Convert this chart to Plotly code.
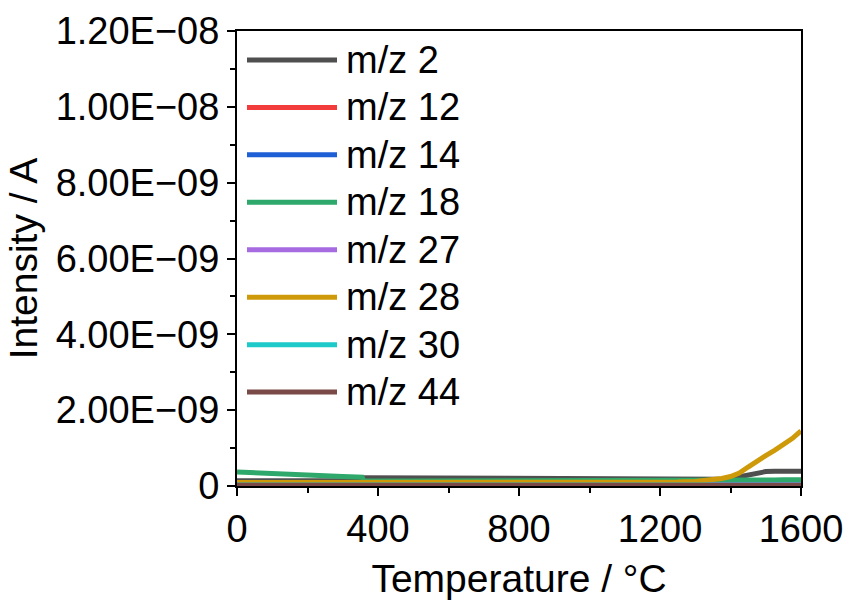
import plotly.graph_objects as go

# Temperature grid (°C) shared by all mass traces
temperature = [0, 100, 200, 300, 355, 360, 500, 700, 900, 1100, 1200, 1250, 1300,
               1325, 1350, 1375, 1400, 1425, 1450, 1475, 1500, 1525, 1550, 1575, 1600]

# Ion currents (A) for each m/z channel
mz2 = [1.4e-10, 1.4e-10, 1.4e-10, 1.4e-10, 1.4e-10, 2.2e-10, 2.1e-10, 2.1e-10, 2.0e-10, 1.9e-10,
       1.8e-10, 1.75e-10, 1.7e-10, 1.7e-10, 1.7e-10, 1.8e-10, 2.0e-10, 2.4e-10, 2.9e-10, 3.5e-10,
       3.8e-10, 3.9e-10, 3.9e-10, 3.9e-10, 3.9e-10]
mz12 = [2.0e-11] * 25
mz14 = [2.5e-11] * 25
mz18 = [3.7e-10, 3.2e-10, 2.8e-10, 2.5e-10, 2.3e-10, 1.3e-10, 1.3e-10, 1.3e-10, 1.3e-10, 1.3e-10,
        1.3e-10, 1.3e-10, 1.3e-10, 1.3e-10, 1.3e-10, 1.3e-10, 1.35e-10, 1.4e-10, 1.45e-10, 1.5e-10,
        1.55e-10, 1.6e-10, 1.65e-10, 1.65e-10, 1.65e-10]
mz27 = [3.0e-11] * 25
mz28 = [9.0e-11, 9.0e-11, 8.5e-11, 8.5e-11, 8.5e-11, 8.5e-11, 8.5e-11, 8.5e-11, 8.5e-11, 9.0e-11,
        9.5e-11, 1.05e-10, 1.2e-10, 1.4e-10, 1.6e-10, 2.0e-10, 2.5e-10, 3.4e-10, 5.0e-10, 6.7e-10,
        8.0e-10, 9.4e-10, 1.09e-09, 1.25e-09, 1.45e-09]
mz30 = [2.5e-11] * 25
mz44 = [2.0e-11] * 25

series_names = ["m/z 2", "m/z 12", "m/z 14", "m/z 18", "m/z 27", "m/z 28", "m/z 30", "m/z 44"]
series_values = [mz2, mz12, mz14, mz18, mz27, mz28, mz30, mz44]
series_colors = ["#4f4f4f", "#f23b3b", "#1e5fd6", "#2ea86b", "#a66be0", "#cf9a0a", "#1ec9c9", "#7a4a48"]

y_tick_values = [0, 2e-9, 4e-9, 6e-9, 8e-9, 1e-8, 1.2e-8]
y_tick_labels = ["0", "2.00E\u221209", "4.00E\u221209", "6.00E\u221209",
                 "8.00E\u221209", "1.00E\u221208", "1.20E\u221208"]
x_tick_values = [0, 400, 800, 1200, 1600]

FONT = "Liberation Sans, Arial, sans-serif"

fig = go.Figure()
for name, vals, col in zip(series_names, series_values, series_colors):
    fig.add_trace(go.Scatter(x=temperature, y=vals, name=name, mode="lines",
                             line=dict(color=col, width=5), showlegend=False))

# Hand-laid legend with long sample lines, inside the top-left of the frame
L, R, T, B = 237, 801, 31, 486.5
W, H = R - L, B - T
for i, (name, col) in enumerate(zip(series_names, series_colors)):
    py = 60 + 47.5 * i
    yp = (B - py) / H
    fig.add_shape(type="line", xref="paper", yref="paper",
                  x0=(247 - L) / W, x1=(337 - L) / W, y0=yp, y1=yp,
                  line=dict(color=col, width=5))
    fig.add_annotation(xref="paper", yref="paper", x=(344 - L) / W, y=yp,
                       text=name, showarrow=False, xanchor="left", yanchor="middle",
                       font=dict(family=FONT, size=38, color="black"))

axis_common = dict(showline=True, linecolor="black", linewidth=2, mirror=True,
                   ticks="outside", ticklen=8, tickwidth=2, tickcolor="black",
                   showgrid=False, zeroline=False,
                   tickfont=dict(family=FONT, size=38, color="black"))

fig.update_xaxes(range=[0, 1600], tickvals=x_tick_values,
                 minor=dict(dtick=200, ticks="outside", ticklen=5, tickwidth=2, tickcolor="black"),
                 title=dict(text="Temperature / \u00b0C", font=dict(family=FONT, size=39, color="black"),
                            standoff=16),
                 **axis_common)
fig.update_yaxes(range=[0, 1.2e-8], tickvals=y_tick_values, ticktext=y_tick_labels,
                 minor=dict(dtick=1e-9, ticks="outside", ticklen=5, tickwidth=2, tickcolor="black"),
                 title=dict(text="Intensity / A", font=dict(family=FONT, size=39, color="black"),
                            standoff=6),
                 **axis_common)

fig.update_layout(width=849, height=600, paper_bgcolor="white", plot_bgcolor="white",
                  margin=dict(l=L, r=849 - R, t=T, b=600 - B, autoexpand=False),
                  showlegend=False)

fig.write_html("out.html")
